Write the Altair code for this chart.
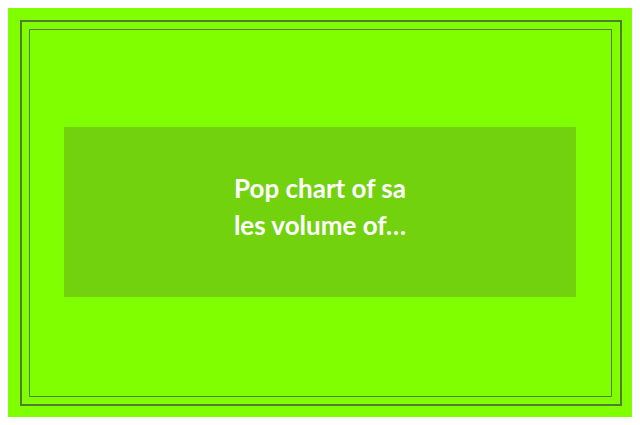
import altair as alt
import pandas as pd

# Text content of the placeholder card
title_lines = ["Pop chart of sa", "les volume of…"]

BG = "#80ff00"
CARD = "#72d20e"
BORDER = "#537c30"

df = pd.DataFrame({"label": ["\n".join(title_lines)]})

base = alt.Chart(df)

outer = base.mark_rect(filled=False, stroke=BORDER, strokeWidth=2).encode(
    x=alt.value(-43), x2=alt.value(557), y=alt.value(-106), y2=alt.value(278)
)
inner = base.mark_rect(filled=False, stroke=BORDER, strokeWidth=1).encode(
    x=alt.value(-34.5), x2=alt.value(547.5), y=alt.value(-97.5), y2=alt.value(269.5)
)
card = base.mark_rect(color=CARD).encode(
    x=alt.value(0), x2=alt.value(512), y=alt.value(0), y2=alt.value(170)
)
text = base.mark_text(
    font="Lato", fontWeight="bold", fontSize=26, color="white",
    align="center", baseline="alphabetic", lineBreak="\n", lineHeight=37,
).encode(
    text="label:N", x=alt.value(256), y=alt.value(71)
)

chart = alt.layer(outer, inner, card, text).properties(
    width=512, height=170,
    padding={"left": 56, "top": 119, "right": 56, "bottom": 120},
    autosize=alt.AutoSizeParams(type="none"),
    background=BG,
).configure_view(stroke=None)

chart.save("out.html", embed_options={"renderer": "svg", "actions": False})
